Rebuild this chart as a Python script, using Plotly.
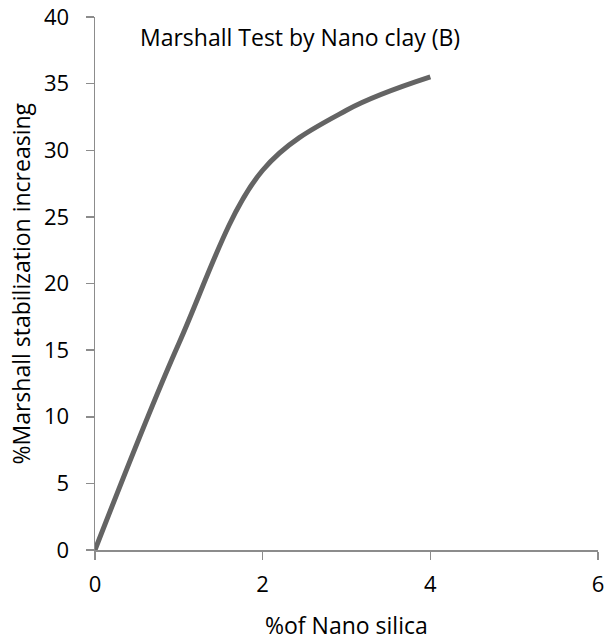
import plotly.graph_objects as go

x_vals = [0, 1, 2, 3, 4]
y_vals = [0, 15.5, 28.5, 33.0, 35.5]
title_text = "Marshall Test by Nano clay (B)"
x_title = "%of Nano silica"
y_title = "%Marshall stabilization increasing"

font_family = "Open Sans, Liberation Sans, sans-serif"

fig = go.Figure()
fig.add_trace(go.Scatter(
    x=x_vals, y=y_vals, mode="lines",
    line=dict(color="#646464", width=5, shape="spline", smoothing=1.0),
    showlegend=False, hoverinfo="skip",
))

axis_common = dict(
    showgrid=False, zeroline=False, showline=True, linecolor="#8c8c8c", linewidth=1.5,
    ticks="outside", ticklen=8, tickcolor="#8c8c8c", tickwidth=1.5,
    tickfont=dict(family=font_family, size=22, color="#000000"),
    automargin=False,
)

fig.update_xaxes(range=[0, 6], tickvals=[0, 2, 4, 6], ticklabelstandoff=6, **axis_common)
fig.update_yaxes(range=[0, 40], tickvals=[0, 5, 10, 15, 20, 25, 30, 35, 40], ticklabelstandoff=12, **axis_common)

fig.add_annotation(
    text=title_text, x=0.408, y=0.962, xref="paper", yref="paper",
    showarrow=False, xanchor="center", yanchor="middle",
    font=dict(family=font_family, size=23, color="#000000"),
)
fig.add_annotation(
    text=x_title, x=0.5, y=-0.141, xref="paper", yref="paper",
    showarrow=False, xanchor="center", yanchor="middle",
    font=dict(family=font_family, size=23, color="#000000"),
)
fig.add_annotation(
    text=y_title, x=-0.149, y=0.5, xref="paper", yref="paper", textangle=-90,
    showarrow=False, xanchor="center", yanchor="middle",
    font=dict(family=font_family, size=23, color="#000000"),
)

fig.update_layout(
    width=605, height=640,
    margin=dict(l=95, r=7, t=17, b=90),
    plot_bgcolor="white", paper_bgcolor="white",
)

fig.write_html(
    "out.html",
    config={"displayModeBar": False, "staticPlot": True},
    post_script="document.body.style.margin='0';document.body.style.overflow='hidden';",
)
